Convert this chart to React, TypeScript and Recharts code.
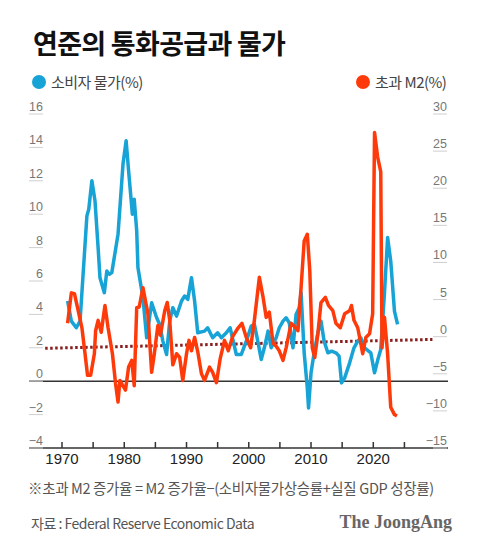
import React from 'react';
import { LineChart, Line, XAxis, YAxis, ReferenceLine } from 'recharts';

// 소비자 물가 상승률 (%) - left axis
const cpiPoints: [number, number][] = [
  [1970.9, 4.8], [1971.5, 3.6], [1972.3, 3.2], [1972.9, 3.6], [1974.0, 9.9], [1974.3, 10.3],
  [1974.8, 12.0], [1975.3, 10.8], [1975.8, 8.0], [1976.1, 6.2], [1976.8, 5.3], [1977.2, 6.6],
  [1977.6, 6.4], [1978.0, 6.5], [1979.0, 8.8], [1979.8, 13.0], [1980.3, 14.4], [1980.7, 12.6],
  [1981.3, 10.0], [1981.6, 10.9], [1982.0, 9.0], [1982.2, 6.8], [1983.0, 5.0], [1983.6, 2.6],
  [1984.4, 4.7], [1985.2, 3.8], [1985.7, 3.4], [1986.2, 2.4], [1986.8, 1.6], [1987.3, 3.6],
  [1987.8, 4.4], [1988.4, 3.9], [1989.2, 4.8], [1989.7, 5.1], [1990.2, 4.9], [1990.8, 6.2],
  [1991.3, 4.8], [1991.8, 2.9], [1992.9, 3.0], [1993.4, 3.2], [1994.2, 2.6], [1995.0, 2.9],
  [1995.6, 2.6], [1996.4, 2.9], [1997.0, 3.2], [1997.5, 2.4], [1998.0, 1.6], [1998.8, 1.6],
  [1999.6, 2.4], [2000.4, 3.3], [2000.9, 3.4], [2001.5, 2.3], [2002.0, 1.3], [2002.5, 2.0],
  [2003.1, 3.0], [2003.6, 2.0], [2004.4, 2.6], [2004.9, 3.2], [2005.5, 3.6], [2006.0, 3.8],
  [2006.5, 3.5], [2007.1, 2.0], [2007.6, 4.0], [2008.1, 4.4], [2008.4, 5.3], [2008.9, 1.7],
  [2009.4, -0.4], [2009.6, -1.6], [2010.0, 0.5], [2010.5, 1.7], [2011.1, 2.9], [2011.6, 3.6],
  [2012.1, 2.4], [2012.7, 1.7], [2013.3, 1.8], [2014.0, 1.7], [2014.5, 1.5], [2014.9, -0.1],
  [2015.4, 0.2], [2016.2, 1.1], [2016.9, 2.0], [2017.5, 2.4], [2018.0, 2.6], [2018.6, 2.0],
  [2019.1, 1.85], [2019.6, 1.7], [2020.2, 0.5], [2020.7, 1.25], [2021.2, 1.9], [2021.8, 5.3],
  [2022.3, 8.6], [2022.8, 7.2], [2023.4, 4.2], [2023.9, 3.4],
];

// 초과 M2 증가율 (%) - right axis
const excessM2Points: [number, number][] = [
  [1970.9, 1.8], [1971.5, 5.9], [1972.0, 5.8], [1972.6, 3.5], [1973.2, 1.2], [1973.7, -2.3],
  [1974.1, -5.2], [1974.6, -5.2], [1975.2, -2.3], [1975.4, 0.8], [1975.8, 2.2], [1976.3, 0.6],
  [1976.9, 4.2], [1977.4, 1.2], [1978.1, -2.3], [1978.6, -6.3], [1979.0, -8.8], [1979.3, -5.9],
  [1979.7, -6.5], [1980.2, -7.2], [1980.7, -4.1], [1981.2, -3.2], [1981.6, -6.6], [1982.0, 3.9],
  [1982.4, 4.0], [1983.0, 6.6], [1983.8, 3.1], [1984.4, -4.8], [1984.8, -2.5], [1985.4, 1.5],
  [1985.8, 0.2], [1986.5, 3.5], [1986.9, 4.6], [1987.3, 2.2], [1987.8, -3.8], [1988.4, -2.3],
  [1988.9, -2.8], [1989.4, -5.9], [1990.0, -2.3], [1990.4, -0.5], [1990.8, -1.9], [1991.3, -0.1],
  [1991.8, -2.0], [1992.4, -5.0], [1992.9, -5.9], [1993.7, -4.1], [1994.2, -4.8], [1994.8, -6.2],
  [1995.4, -3.0], [1996.1, -0.5], [1996.7, -1.9], [1997.4, 0.0], [1998.3, 1.2], [1998.9, 1.8],
  [1999.6, -0.1], [2000.3, -1.5], [2000.9, 2.2], [2001.7, 8.0], [2002.3, 5.3], [2002.8, 2.6],
  [2003.3, 3.3], [2003.9, -0.9], [2004.4, -1.3], [2004.9, -1.9], [2005.5, -3.2], [2006.0, -1.5],
  [2006.8, 1.8], [2007.3, 1.4], [2007.9, 0.8], [2008.4, 6.6], [2008.9, 12.9], [2009.4, 13.8],
  [2009.8, 8.9], [2010.2, -1.5], [2010.6, -2.8], [2011.1, 0.4], [2011.6, 4.6], [2012.3, 5.3],
  [2012.8, 4.2], [2013.5, 3.5], [2014.0, 1.8], [2014.7, 1.2], [2015.4, 3.1], [2016.2, 3.5],
  [2016.5, 4.2], [2016.9, 2.2], [2017.5, 1.2], [2017.9, -0.5], [2018.3, -2.3], [2018.8, -0.1],
  [2019.4, 0.4], [2019.9, 3.1], [2020.2, 27.5], [2020.7, 24.2], [2021.2, 22.2], [2021.4, -1.5],
  [2021.8, 2.6], [2022.3, -2.3], [2022.8, -9.5], [2023.4, -10.5], [2023.8, -10.7],
];

// 점선 추세
const trendPoints: [number, number][] = [[1967.3, 1.97], [2029.5, 2.5]];

const yearTicks = [1970, 1975, 1980, 1985, 1990, 1995, 2000, 2005, 2010, 2015, 2020, 2025];
const leftTicks = [-4, -2, 0, 2, 4, 6, 8, 10, 12, 14, 16];
const rightTicks = [-15, -10, -5, 0, 5, 10, 15, 20, 25, 30];

const BLUE = '#17a3d6';
const RED = '#ff3a0a';
const NUM_FONT = '"Liberation Sans", Arial, sans-serif';
const KR_FONT = '"Noto Sans CJK KR", "Noto Sans", sans-serif';

const cpiRows = cpiPoints.map(([year, v]) => ({ year, cpi: v }));
const m2Rows = excessM2Points.map(([year, v]) => ({ year, m2: v }));
const trendRows = trendPoints.map(([year, v]) => ({ year, trend: v }));

const fmt = (v: number) => (v < 0 ? '\u2212' + Math.abs(v) : String(v));

const LeftTick = (props: any) => {
  const { x, y, payload } = props;
  return (
    <g>
      <line x1={x} x2={x + 14} y1={y} y2={y} stroke="#cfcfcf" strokeWidth={1} />
      <text x={x + 14} y={y - 3} textAnchor="end" fontSize={12.5} fill="#777" fontFamily={NUM_FONT}>
        {fmt(payload.value)}
      </text>
    </g>
  );
};

const RightTick = (props: any) => {
  const { x, y, payload } = props;
  return (
    <g>
      <line x1={x - 15} x2={x - 1} y1={y} y2={y} stroke="#cfcfcf" strokeWidth={1} />
      <text x={x - 1} y={y - 3} textAnchor="end" fontSize={12.5} fill="#777" fontFamily={NUM_FONT}>
        {fmt(payload.value)}
      </text>
    </g>
  );
};

const YearTick = (props: any) => {
  const { x, y, payload } = props;
  const showLabel = payload.value % 10 === 0;
  return (
    <g>
      <line x1={x} x2={x} y1={y} y2={y - 6} stroke="#333" strokeWidth={1.5} />
      {showLabel && (
        <text x={x} y={y + 16} textAnchor="middle" fontSize={15} fill="#222" fontFamily={NUM_FONT}>
          {payload.value}
        </text>
      )}
    </g>
  );
};

const Dot = ({ color }: { color: string }) => (
  <span
    style={{
      display: 'inline-block',
      width: 14,
      height: 14,
      borderRadius: 7,
      background: color,
      marginRight: 5,
    }}
  />
);

export default function App() {
  return (
    <div
      style={{
        position: 'absolute',
        left: 0,
        top: 0,
        width: 480,
        height: 551,
        background: '#fff',
        fontFamily: KR_FONT,
        overflow: 'hidden',
      }}
    >
      <div
        style={{
          position: 'absolute',
          left: 33,
          top: 28,
          fontSize: 27,
          lineHeight: '29px',
          fontWeight: 700,
          color: '#111',
          letterSpacing: -0.7,
        }}
      >
        연준의 통화공급과 물가
      </div>

      <div
        style={{
          position: 'absolute',
          left: 32,
          top: 72,
          display: 'flex',
          alignItems: 'center',
          fontSize: 15,
          lineHeight: '20px',
          color: '#444',
          letterSpacing: -0.5,
        }}
      >
        <Dot color={BLUE} />
        소비자 물가(%)
      </div>
      <div
        style={{
          position: 'absolute',
          left: 356,
          top: 72,
          display: 'flex',
          alignItems: 'center',
          fontSize: 15,
          lineHeight: '20px',
          color: '#444',
          letterSpacing: -0.5,
        }}
      >
        <Dot color={RED} />
        초과 M2(%)
      </div>

      <div style={{ position: 'absolute', left: 0, top: 0 }}>
        <LineChart width={480} height={480} margin={{ top: 114, right: 0, bottom: 0, left: 0 }}>
          <XAxis
            dataKey="year"
            type="number"
            domain={[1964.7, 2032]}
            ticks={yearTicks}
            allowDataOverflow
            height={32}
            tickSize={0}
            tickMargin={0}
            axisLine={{ stroke: '#333', strokeWidth: 1.5 }}
            tickLine={false}
            tick={<YearTick />}
            interval={0}
          />
          <YAxis
            yAxisId="left"
            orientation="left"
            type="number"
            domain={[-4, 16]}
            ticks={leftTicks}
            width={29}
            tickSize={0}
            tickMargin={0}
            axisLine={false}
            tickLine={false}
            tick={<LeftTick />}
            interval={0}
            allowDataOverflow
          />
          <YAxis
            yAxisId="right"
            orientation="right"
            type="number"
            domain={[-15, 30]}
            ticks={rightTicks}
            width={32}
            tickSize={0}
            tickMargin={0}
            axisLine={false}
            tickLine={false}
            tick={<RightTick />}
            interval={0}
            allowDataOverflow
          />
          <ReferenceLine yAxisId="left" y={0} stroke="#333" strokeWidth={1.5} />
          <Line
            yAxisId="left"
            data={trendRows}
            dataKey="trend"
            stroke="#8a1c1c"
            strokeWidth={3}
            strokeDasharray="2.5 2.5"
            dot={false}
            isAnimationActive={false}
          />
          <Line
            yAxisId="left"
            data={cpiRows}
            dataKey="cpi"
            type="linear"
            stroke={BLUE}
            strokeWidth={3.5}
            strokeLinejoin="round"
            dot={false}
            isAnimationActive={false}
          />
          <Line
            yAxisId="right"
            data={m2Rows}
            dataKey="m2"
            type="linear"
            stroke={RED}
            strokeWidth={3.5}
            strokeLinejoin="round"
            dot={false}
            isAnimationActive={false}
          />
        </LineChart>
      </div>

      <div
        style={{
          position: 'absolute',
          left: 28,
          top: 478,
          fontSize: 14.5,
          lineHeight: '20px',
          color: '#555',
          letterSpacing: -0.35,
          whiteSpace: 'nowrap',
        }}
      >
        ※초과 M2 증가율 = M2 증가율−(소비자물가상승률+실질 GDP 성장률)
      </div>
      <div
        style={{
          position: 'absolute',
          left: 31,
          top: 513,
          fontSize: 14,
          lineHeight: '20px',
          color: '#555',
          letterSpacing: -0.5,
          whiteSpace: 'nowrap',
        }}
      >
        자료 : Federal Reserve Economic Data
      </div>
      <div
        style={{
          position: 'absolute',
          right: 28,
          top: 511,
          fontSize: 18,
          lineHeight: '22px',
          fontWeight: 700,
          color: '#666',
          fontFamily: '"Liberation Serif", "DejaVu Serif", serif',
          whiteSpace: 'nowrap',
        }}
      >
        The JoongAng
      </div>
    </div>
  );
}
